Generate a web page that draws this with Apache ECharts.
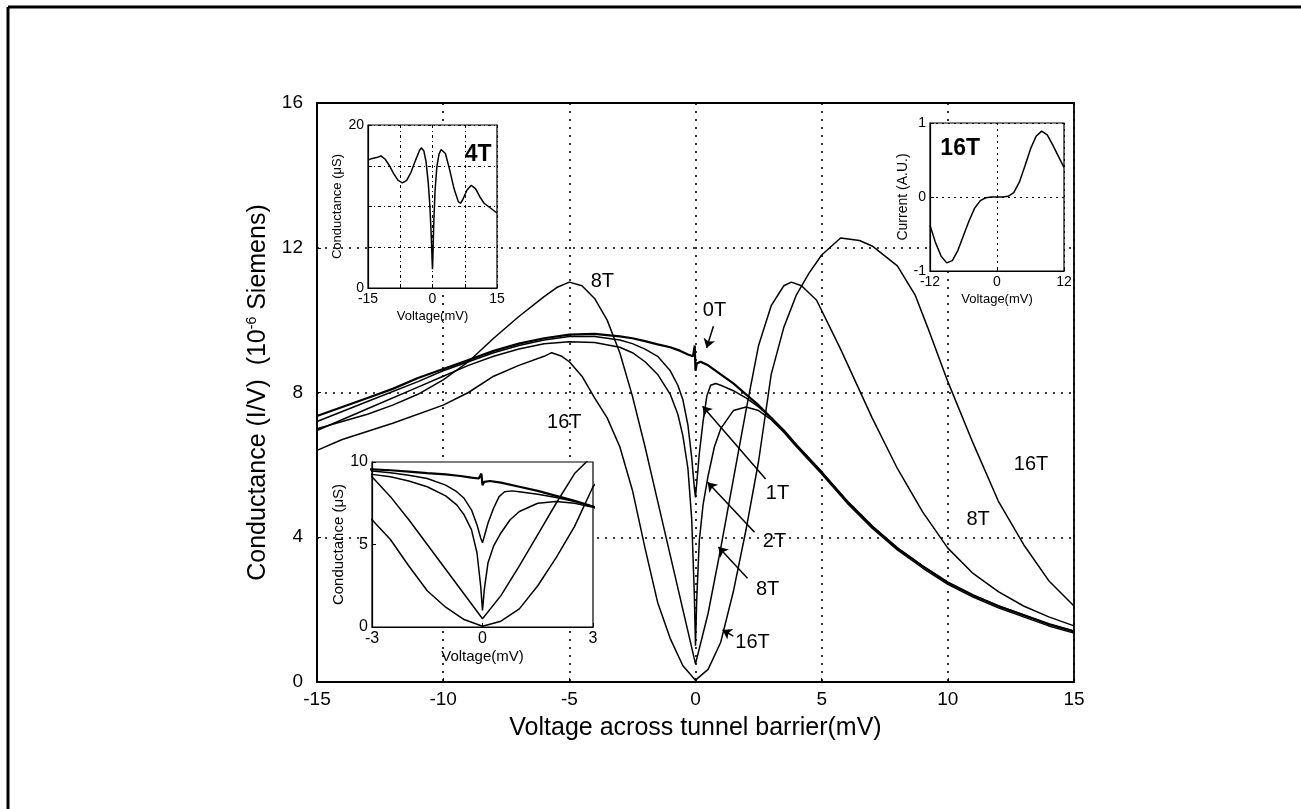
<!DOCTYPE html>
<html>
<head>
<meta charset="utf-8">
<style>
html,body{margin:0;padding:0;background:#fff}
#chart{width:1301px;height:809px}
</style>
<script src="https://cdn.jsdelivr.net/npm/echarts@6/dist/echarts.min.js"></script>
</head>
<body>
<div id="chart"></div>
<script>
// main plot: conductance (uS) vs voltage (mV), one list per field
var g0T = [[-15,7.35],[-14,7.6],[-13,7.85],[-12,8.1],[-11,8.4],[-10,8.65],[-9,8.9],[-8,9.15],[-7,9.35],[-6,9.5],[-5,9.6],[-4,9.62],[-3,9.55],[-2.5,9.5],[-2,9.42],[-1.5,9.33],[-1,9.25],[-0.6,9.15],[-0.3,9.05],[-0.1,9.0],[-0.03,9.3],[0,8.6],[0.05,8.8],[0.2,8.85],[0.5,8.75],[1,8.5],[1.5,8.25],[2,7.95],[2.5,7.65],[3,7.3],[3.5,6.95],[4,6.55],[5,5.8],[6,5.0],[7,4.3],[8,3.7],[9,3.2],[10,2.75],[11,2.4],[12,2.1],[13,1.85],[14,1.6],[15,1.4]];
var g1T = [[-15,7.2],[-13,7.75],[-11,8.3],[-10,8.6],[-9,8.85],[-8,9.1],[-7,9.3],[-6,9.45],[-5,9.55],[-4,9.55],[-3,9.45],[-2.5,9.35],[-2,9.2],[-1.5,9.0],[-1,8.6],[-0.7,8.2],[-0.5,7.8],[-0.3,7.1],[-0.15,6.2],[-0.05,5.4],[0,5.1],[0.05,5.5],[0.15,6.3],[0.3,7.2],[0.45,7.9],[0.6,8.2],[0.8,8.25],[1,8.2],[1.5,8.05],[2,7.85],[2.5,7.6],[3,7.3],[3.5,6.95],[4,6.55],[5,5.8],[6,5.0],[7,4.3],[8,3.7],[9,3.2],[10,2.75],[11,2.4],[12,2.1],[13,1.85],[14,1.6],[15,1.4]];
var g2T = [[-15,6.95],[-13,7.55],[-11,8.15],[-10,8.45],[-9,8.75],[-8,9.0],[-7,9.2],[-6,9.35],[-5,9.4],[-4,9.38],[-3,9.25],[-2.5,9.1],[-2,8.85],[-1.5,8.5],[-1,7.95],[-0.7,7.4],[-0.5,6.8],[-0.3,5.9],[-0.15,4.5],[-0.05,2.5],[0,1.0],[0.05,2.3],[0.15,3.9],[0.3,4.9],[0.5,5.7],[0.75,6.5],[1,7.0],[1.5,7.5],[2,7.6],[2.5,7.5],[3,7.25],[3.5,6.9],[4,6.5],[5,5.75],[6,4.95],[7,4.25],[8,3.65],[9,3.15],[10,2.7],[11,2.35],[12,2.05],[13,1.8],[14,1.55],[15,1.35]];
var g8T = [[-15,7.0],[-13,7.4],[-12,7.65],[-11,7.95],[-10,8.35],[-9,8.85],[-8,9.5],[-7,10.1],[-6,10.65],[-5.5,10.9],[-5,11.05],[-4.5,10.95],[-4,10.6],[-3.5,10.0],[-3,9.1],[-2.5,7.9],[-2,6.5],[-1.5,5.0],[-1,3.5],[-0.5,2.0],[0,0.5],[0.5,1.9],[1,3.7],[1.5,5.6],[2,7.5],[2.5,9.3],[3,10.4],[3.5,10.95],[3.8,11.05],[4.2,10.95],[4.8,10.55],[5.75,9.2],[7,7.3],[8,5.9],[9,4.7],[10,3.7],[11,3.0],[12,2.5],[13,2.1],[14,1.8],[15,1.55]];
var g16T = [[-15,6.4],[-14,6.7],[-12,7.15],[-10,7.65],[-9,8.0],[-8,8.45],[-7,8.75],[-6,9.0],[-5.7,9.1],[-5.3,9.0],[-5,8.85],[-4.5,8.45],[-4,7.85],[-3.5,7.3],[-3,6.5],[-2.5,5.3],[-2,3.7],[-1.5,2.2],[-1,1.2],[-0.5,0.45],[0,0.05],[0.5,0.35],[1,1.1],[1.5,2.5],[2,4.2],[2.5,6.1],[3,8.5],[3.5,9.8],[4,10.7],[4.5,11.3],[5,11.8],[5.75,12.27],[6.5,12.2],[7,12.05],[8,11.5],[8.7,10.7],[9.2,9.8],[10,8.3],[11,6.6],[12,5.0],[13,3.8],[14,2.8],[15,2.1]];

// inset: conductance at 4T
var g4T = [[-15,15.7],[-14,15.9],[-13,16.0],[-12,16.2],[-11,15.8],[-10,15.0],[-9,14.0],[-8,13.2],[-7,12.9],[-6,13.2],[-5,14.2],[-4,15.6],[-3,16.9],[-2.6,17.2],[-2,16.8],[-1.5,15.5],[-1,13.0],[-0.6,10.0],[-0.3,6.5],[-0.1,3.5],[0,2.3],[0.1,4.0],[0.3,8.0],[0.6,12.0],[1,14.8],[1.5,16.4],[2,17.0],[2.3,17.05],[3,16.5],[4,14.5],[5,12.2],[6,10.6],[6.5,10.4],[7,10.8],[8,12.0],[9,12.6],[10,12.2],[11,11.2],[12,10.4],[13,10.0],[14,9.6],[15,9.2]];

// inset: current (A.U.) at 16T
var i16T = [[-12,-0.38],[-11,-0.62],[-10,-0.8],[-9,-0.89],[-8,-0.86],[-7,-0.72],[-6,-0.52],[-5,-0.32],[-4,-0.15],[-3,-0.05],[-2,-0.01],[-1,0],[0,0],[1,0],[2,0.01],[3,0.06],[4,0.2],[5,0.42],[6,0.65],[7,0.82],[8,0.89],[9,0.84],[10,0.7],[11,0.55],[12,0.4]];

var FONT = "'Liberation Sans',Arial,sans-serif";

// text placements: [text, x, y, grid index] in data coords of that grid
var notes = [['8T',-3.69,11.08,0],['0T',0.75,10.28,0],['16T',-5.2,7.18,0],['1T',3.25,5.2,0],['2T',3.13,3.87,0],['8T',2.86,2.57,0],['16T',2.26,1.1,0],['16T',13.3,6.0,0],['8T',11.2,4.5,0],['4T',10.6,16.4,1],['16T',-6.6,0.66,2]];
var arrows = [[[0.71,9.83],[0.44,9.23]],[[2.78,5.61],[0.28,7.62]],[[2.34,4.14],[0.48,5.52]],[[2.06,2.87],[0.91,3.73]],[[1.5,1.27],[1.07,1.44]]];

function axis(gi, min, max, step, o) {
  o = o || {};
  return {
    gridIndex: gi, type: 'value', min: min, max: max, interval: step, z: o.z || 0,
    axisLine: {show: true, onZero: false, lineStyle: {color: '#000', width: o.lw || 1.2}},
    axisTick: {show: true, inside: true, length: 4, lineStyle: {color: '#000'}},
    axisLabel: {color: '#000', fontSize: o.fs || 14, fontFamily: FONT, margin: o.margin || 4,
      formatter: o.fmt || function(v){ return v; }},
    splitLine: {show: !!o.split, lineStyle: {color: '#000', type: o.dash || [2, 4], width: o.sw || 1}},
    name: o.name || '', nameLocation: 'middle', nameGap: o.gap || 14,
    nameRotate: o.rot, nameTextStyle: {color: '#000', fontSize: o.nfs || 13, fontFamily: FONT,
      backgroundColor: o.nbg, rich: o.rich}
  };
}

function curve(gi, data, z, w) {
  return {type: 'line', xAxisIndex: gi, yAxisIndex: gi, data: data, showSymbol: false, silent: true,
    z: z || 2, lineStyle: {color: '#000', width: w || 1.5}};
}

var chart = echarts.init(document.getElementById('chart'));

var fields = [g0T, g1T, g2T, g8T, g16T];
var mainSeries = fields.map(function(d, i){ return curve(0, d, 2, i === 0 ? 2.2 : 1.5); });
mainSeries[0].markLine = {
  silent: true, symbol: ['none', 'arrow'], symbolSize: 9, label: {show: false},
  lineStyle: {color: '#000', width: 1.5, type: 'solid'},
  data: arrows.map(function(a){ return [{coord: a[0]}, {coord: a[1]}]; })
};
var lowSeries = fields.map(function(d, i){ return curve(3, d, 8, i === 0 ? 2.2 : 1.5); });

var frame = [
  {type: 'line', shape: {x1: 8, y1: 7, x2: 1301, y2: 7}, style: {stroke: '#000', lineWidth: 3}},
  {type: 'line', shape: {x1: 8, y1: 7, x2: 8, y2: 809}, style: {stroke: '#000', lineWidth: 3}}
];

var option = {
  animation: false,
  backgroundColor: '#fff',
  grid: [
    {left: 317, top: 103, width: 757, height: 579, show: true, borderColor: '#000', borderWidth: 1.8, backgroundColor: 'transparent'},
    {left: 368, top: 125, width: 129, height: 163, show: true, borderColor: '#000', borderWidth: 1.2, backgroundColor: '#fff', z: 5},
    {left: 930, top: 123, width: 134, height: 148, show: true, borderColor: '#000', borderWidth: 1.2, backgroundColor: '#fff', z: 5},
    {left: 372, top: 462, width: 221, height: 165, show: true, borderColor: '#000', borderWidth: 1.2, backgroundColor: '#fff', z: 5}
  ],
  xAxis: [
    axis(0, -15, 15, 5, {fs: 19, margin: 8, split: true, dash: [2, 6], sw: 1.6, lw: 1.8,
      name: 'Voltage across tunnel barrier(mV)', nfs: 25, gap: 34}),
    axis(1, -15, 15, 7.5, {z: 6, split: true, dash: [3, 3, 1, 3], fmt: function(v){ return Math.abs(v) === 7.5 ? '' : v; },
      name: 'Voltage(mV)', gap: 22}),
    axis(2, -12, 12, 12, {z: 6, split: true, dash: [2, 4], name: 'Voltage(mV)', gap: 22}),
    axis(3, -3, 3, 3, {z: 6, fs: 16, name: 'Voltage(mV)', nfs: 15, gap: 22})
  ],
  yAxis: [
    axis(0, 0, 16, 4, {fs: 19, margin: 14, split: true, dash: [2, 6], sw: 1.6, lw: 1.8,
      name: '{a|Conductance (I/V)  (10}{s|-6}{a| Siemens)}', gap: 46, rot: 90,
      rich: {a: {fontSize: 25, fontFamily: FONT, color: '#000'},
             s: {fontSize: 14, fontFamily: FONT, color: '#000', verticalAlign: 'top', lineHeight: 26}}}),
    axis(1, 0, 20, 5, {z: 6, split: true, dash: [3, 3, 1, 3], fmt: function(v){ return (v === 0 || v === 20) ? v : ''; },
      name: 'Conductance (\u03BCS)', gap: 24, rot: 90}),
    axis(2, -1, 1, 1, {z: 6, split: true, dash: [2, 4], name: 'Current (A.U.)', gap: 20, rot: 90, nfs: 14, nbg: '#fff'}),
    axis(3, 0, 10, 5, {z: 6, fs: 16, name: 'Conductance (\u03BCS)', gap: 18, rot: 90, nfs: 15})
  ],
  series: mainSeries.concat([curve(1, g4T, 8, 1.5), curve(2, i16T, 8, 1.5)]).concat(lowSeries),
  graphic: frame
};

chart.setOption(option);

// annotation texts, placed through the grids' own scales
var texts = notes.map(function(n){
  var p = chart.convertToPixel({gridIndex: n[3]}, [n[1], n[2]]);
  var inset = n[3] > 0;
  return {type: 'text', x: p[0], y: p[1], z: 100,
    style: {text: n[0], fill: '#000', font: (inset ? 'bold 23px ' : '20px ') + FONT,
      textAlign: 'center', textVerticalAlign: 'middle'}};
});
chart.setOption({graphic: frame.concat(texts)});
</script>
</body>
</html>
